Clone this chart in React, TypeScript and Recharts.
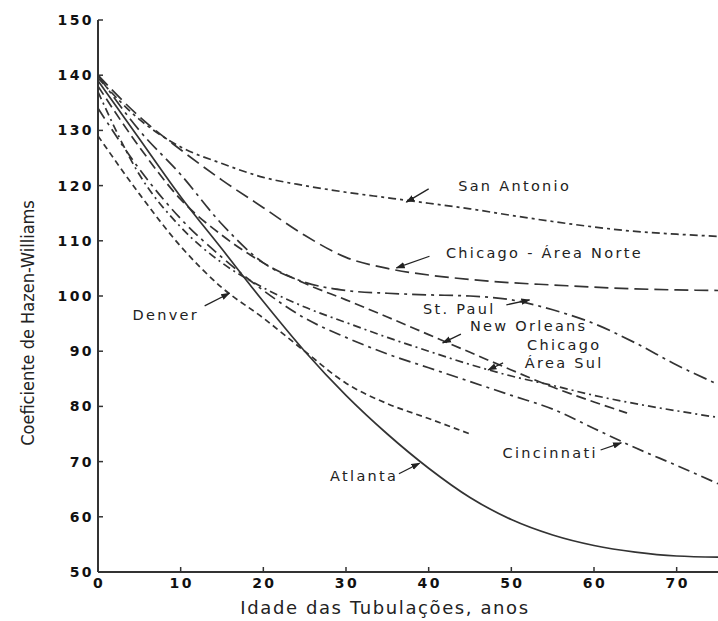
import { Label, Line, LineChart, ReferenceDot, ReferenceLine, XAxis, YAxis } from "recharts";

// pipe age (years) and Hazen-Williams C
const ages = [0, 5, 10, 15, 20, 25, 30, 35, 40, 45, 50, 55, 60, 65, 70, 75];
const sanAntonio = [139.5, 132, 127, 124, 121.5, 120, 118.8, 117.8, 116.8, 115.8, 114.6, 113.5, 112.5, 111.7, 111.2, 110.8];
const chicagoNorte = [140, 132.5, 126.5, 121, 116, 111, 107, 105, 103.8, 103, 102.4, 102, 101.6, 101.3, 101.1, 101];
const stPaul = [140, 130, 122, 113, 106, 102.5, 101, 100.5, 100.2, 100, 99.3, 97.5, 95, 91.5, 87.5, 84];
const atlanta = [139, 128.5, 118, 108.5, 99, 90, 82, 75, 68.8, 63.5, 59.5, 56.7, 54.8, 53.6, 52.9, 52.7];
const chicagoSul = [137, 122, 112.5, 106, 101.5, 98, 95.2, 92.5, 90, 87.6, 85.5, 83.8, 82, 80.5, 79.2, 78];
const cincinnati = [134, 123, 114, 107, 101, 96, 92.5, 89.5, 87, 84.5, 82, 79.5, 76, 72.5, 69.3, 66];
const newOrleansAges = [0, 5, 10, 15, 20, 25, 30, 35, 40, 45, 50, 55, 60, 64];
const newOrleans = [138, 127, 117.5, 111, 106, 102.3, 99.3, 96.2, 93, 89.8, 86.6, 83.5, 80.8, 78.8];
const denverAges = [0, 5, 10, 15, 20, 25, 30, 35, 40, 45];
const denver = [129, 118.5, 109, 101.5, 96, 90, 84.2, 80.5, 77.8, 75];

const xTicks = [0, 10, 20, 30, 40, 50, 60, 70];
const yTicks = [50, 60, 70, 80, 90, 100, 110, 120, 130, 140, 150];

const series = [
  { name: "San Antonio", x: ages, y: sanAntonio, dash: "8 4 3 4" },
  { name: "Chicago - Área Norte", x: ages, y: chicagoNorte, dash: "14 6" },
  { name: "St. Paul", x: ages, y: stPaul, dash: "14 5 3 5" },
  { name: "Atlanta", x: ages, y: atlanta, dash: undefined },
  { name: "Chicago Área Sul", x: ages, y: chicagoSul, dash: "8 4 2 4" },
  { name: "Cincinnati", x: ages, y: cincinnati, dash: "12 5 3 5" },
  { name: "New Orleans", x: newOrleansAges, y: newOrleans, dash: "10 5" },
  { name: "Denver", x: denverAges, y: denver, dash: "6 4" },
];

// annotation text (centre) and arrow, in data units
const notes = [
  { text: "San Antonio", at: [50.4, 119.9], from: [40, 119.4], to: [37.3, 117] },
  { text: "Chicago - Área Norte", at: [54, 107.8], from: [40.1, 107.2], to: [36.1, 105.1] },
  { text: "St. Paul", at: [43.7, 97.6], from: [49.4, 98.4], to: [52.2, 99.3] },
  { text: "New Orleans", at: [52.1, 94.5], from: [43.9, 93.1], to: [41.7, 91.5] },
  { text: "Chicago", at: [56.4, 91.2], from: [49, 87.9], to: [47.2, 86.6] },
  { text: "Área Sul", at: [56.4, 87.8], from: null, to: null },
  { text: "Denver", at: [8.2, 96.6], from: [12.9, 98.2], to: [15.9, 100.5] },
  { text: "Cincinnati", at: [54.7, 71.6], from: [60.8, 72.1], to: [63.3, 73.4] },
  { text: "Atlanta", at: [32.2, 67.4], from: [36.4, 67.8], to: [38.9, 69.7] },
];

const ink = "#333";
const wide = { fontFamily: "'DejaVu Sans', sans-serif", fontSize: 14.5, letterSpacing: 2.3, fill: "#222" };
const tickFont = { fontFamily: "'DejaVu Sans', sans-serif", fontWeight: 700, fontSize: 14, letterSpacing: 2.4, fill: "#111" };

const YTick = ({ x, y, payload }: any) => (
  <g>
    <line x1={x + 6} x2={x + 11} y1={y} y2={y} stroke={ink} strokeWidth={1.5} />
    <text x={x + 2} y={y} textAnchor="end" dominantBaseline="central" style={tickFont}>
      {payload.value}
    </text>
  </g>
);

const XTick = ({ x, y, payload }: any) => (
  <g>
    <line x1={x} x2={x} y1={y - 5} y2={y} stroke={ink} strokeWidth={1.5} />
    <text x={x + 1} y={y + 11} textAnchor="middle" dominantBaseline="central" style={tickFont}>
      {payload.value}
    </text>
  </g>
);

export default function App() {
  return (
    <div style={{ position: "absolute", left: 0, top: 0, background: "#fff" }}>
      <svg width={0} height={0} style={{ position: "absolute" }}>
        <defs>
          <marker id="tip" viewBox="0 0 10 10" refX="9" refY="5" markerWidth="7" markerHeight="7" orient="auto">
            <path d="M0,1.5 L10,5 L0,8.5 z" fill="#222" />
          </marker>
        </defs>
      </svg>
      <LineChart width={718} height={621} margin={{ top: 20, right: 0, bottom: 0, left: 0 }}>
        <XAxis
          type="number"
          dataKey="age"
          domain={[0, 75]}
          ticks={xTicks}
          height={49}
          tickSize={0}
          tickMargin={0}
          tickLine={false}
          stroke={ink}
          strokeWidth={2}
          tick={<XTick />}
        >
          <Label
            content={({ viewBox }: any) => (
              <text x={385} y={viewBox.y + 35} textAnchor="middle" dominantBaseline="central"
                style={{ fontFamily: "'DejaVu Sans', sans-serif", fontSize: 18, letterSpacing: 1.6, fill: "#222" }}>
                Idade das Tubulações, anos
              </text>
            )}
          />
        </XAxis>
        <YAxis
          type="number"
          domain={[50, 150]}
          ticks={yTicks}
          width={98}
          tickSize={0}
          tickMargin={6}
          tickLine={false}
          stroke={ink}
          strokeWidth={2}
          tick={<YTick />}
        >
          <Label
            content={({ viewBox }: any) => {
              const cy = viewBox.y + viewBox.height / 2 + 27;
              return (
                <text x={27} y={cy} transform={`rotate(-90 27 ${cy})`} textAnchor="middle" dominantBaseline="central"
                  style={{ fontFamily: "'Liberation Sans Narrow', 'DejaVu Sans Condensed', sans-serif", fontStretch: "condensed", fontSize: 18, fill: "#222" }}>
                  Coeficiente de Hazen-Williams
                </text>
              );
            }}
          />
        </YAxis>
        {series.map((s) => (
          <Line
            key={s.name}
            name={s.name}
            data={s.x.map((a, i) => ({ age: a, c: s.y[i] }))}
            dataKey="c"
            type="monotone"
            stroke={ink}
            strokeWidth={1.7}
            strokeDasharray={s.dash}
            dot={false}
            isAnimationActive={false}
          />
        ))}
        {notes.filter((n) => n.from).map((n) => (
          <ReferenceLine
            key={"a" + n.text}
            segment={[{ x: n.from![0], y: n.from![1] }, { x: n.to![0], y: n.to![1] }]}
            stroke="#222"
            strokeWidth={1.3}
            markerEnd="url(#tip)"
          />
        ))}
        {notes.map((n) => (
          <ReferenceDot
            key={"t" + n.text}
            x={n.at[0]}
            y={n.at[1]}
            r={0}
            stroke="none"
            fill="none"
          >
            <Label
              content={({ viewBox }: any) => (
                <text x={viewBox.x + viewBox.width / 2} y={viewBox.y + viewBox.height / 2} textAnchor="middle"
                  dominantBaseline="central" style={wide}>
                  {n.text}
                </text>
              )}
            />
          </ReferenceDot>
        ))}
      </LineChart>
    </div>
  );
}
